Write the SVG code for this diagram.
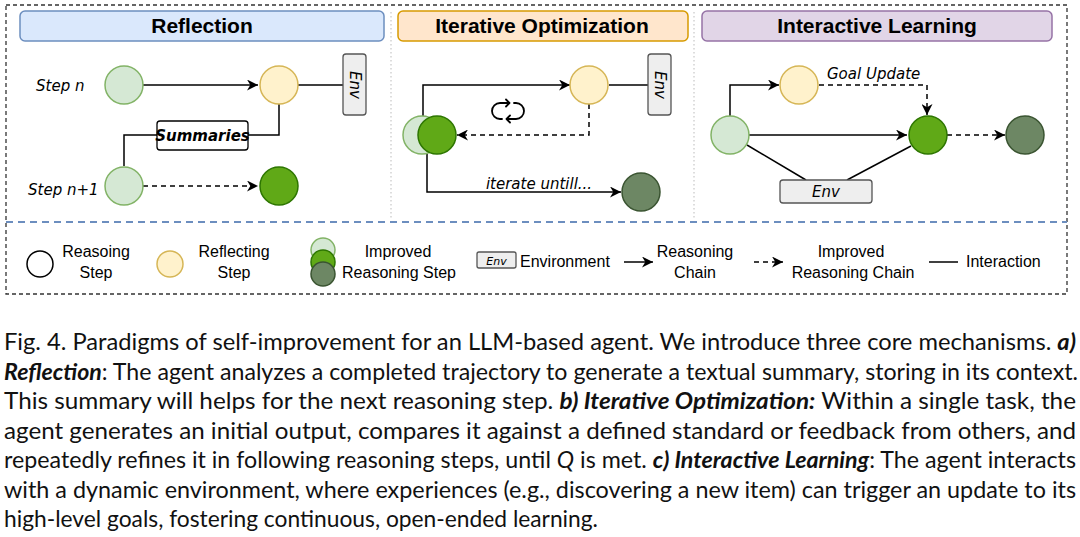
<svg xmlns="http://www.w3.org/2000/svg" width="1080" height="537" viewBox="0 0 1080 537">
<style>
.bg{fill:#ffffff}
.frame{fill:none;stroke:#333;stroke-width:1.3;stroke-dasharray:4 3}
.sep{fill:none;stroke:#6c8ebf;stroke-width:1.8;stroke-dasharray:7 5}
.div{fill:none;stroke:#bbb;stroke-width:1;stroke-dasharray:1.5 2.5}
.hdr{font-family:"Liberation Sans",Arial,sans-serif;font-weight:bold;font-size:21px;fill:#000;text-anchor:middle}
.c1{fill:#d5e8d4;stroke:#82b366;stroke-width:1.5}
.c2{fill:#fff2cc;stroke:#d6b656;stroke-width:1.5}
.c3{fill:#60a917;stroke:#2d7600;stroke-width:1.5}
.c4{fill:#6d8764;stroke:#3a5431;stroke-width:1.5}
.c0{fill:#fff;stroke:#000;stroke-width:1.5}
.env{fill:#eeeeee;stroke:#555;stroke-width:1.3}
.sum{fill:#fff;stroke:#000;stroke-width:1.3}
.hand{font-family:"Comic Sans MS","DejaVu Sans",sans-serif;font-style:italic;font-size:15px;fill:#000}
.mid{text-anchor:middle}
.small{font-size:11px}
.ln{fill:none;stroke:#000;stroke-width:1.5}
.dash{stroke-dasharray:5 4}
.leg{font-family:"Liberation Sans",Arial,sans-serif;font-size:16px;fill:#000;text-anchor:middle}
.legs{font-family:"Liberation Sans",Arial,sans-serif;font-size:16px;fill:#000;text-anchor:start}
.cap{font-family:Lato,"Noto Sans",sans-serif;font-size:22.5px;fill:#111}
.bi{font-weight:bold;font-style:italic}
</style>
<defs>
<marker id="ah" viewBox="0 0 10 10" refX="10" refY="5" markerWidth="11" markerHeight="11" markerUnits="userSpaceOnUse" orient="auto">
<path d="M0,0 L10,5 L0,10 L3,5 z" fill="#000"/>
</marker>
</defs>
<rect class="bg" x="0" y="0" width="1080" height="537"/>
<g id="frame">
<rect class="frame" x="6" y="5" width="1061" height="289"/>
<line class="sep" x1="6" y1="222" x2="1067" y2="222"/>
<line class="div" x1="391" y1="12" x2="391" y2="219"/>
<line class="div" x1="694" y1="12" x2="694" y2="219"/>
</g>
<g id="hdr-reflection">
<rect x="20" y="11" width="364" height="30" rx="5" fill="#dae8fc" stroke="#6c8ebf" stroke-width="1.5"/>
<text class="hdr" x="202" y="33">Reflection</text>
</g>
<g id="hdr-iterative">
<rect x="398" y="11" width="290" height="30" rx="5" fill="#ffe6cc" stroke="#d79b00" stroke-width="1.5"/>
<text class="hdr" x="542" y="33">Iterative Optimization</text>
</g>
<g id="hdr-interactive">
<rect x="702" y="11" width="350" height="30" rx="5" fill="#e1d5e7" stroke="#9673a6" stroke-width="1.5"/>
<text class="hdr" x="877" y="33">Interactive Learning</text>
</g>
<g id="connectors">
<path class="ln" d="M143,85 H258" marker-end="url(#ah)"/>
<path class="ln" d="M298,85 H343"/>
<path class="ln" d="M279,104 V135 H248"/>
<path class="ln" d="M157,135 H124 V166"/>
<path class="ln dash" d="M143,186 H258" marker-end="url(#ah)"/>
<path class="ln" d="M423,116 V85 H570" marker-end="url(#ah)"/>
<path class="ln" d="M609,85 H648"/>
<path class="ln dash" d="M589,104 V135 H457" marker-end="url(#ah)"/>
<path class="ln" d="M427,154 V192 H621" marker-end="url(#ah)"/>
<path class="ln" d="M730,116 V85 H779" marker-end="url(#ah)"/>
<path class="ln dash" d="M819,85 H927 V115" marker-end="url(#ah)"/>
<path class="ln" d="M749,135 H907" marker-end="url(#ah)"/>
<path class="ln dash" d="M947,135 H1005" marker-end="url(#ah)"/>
<path class="ln" d="M747,145 L806,180"/>
<path class="ln" d="M847,180 L911,146"/>
<path class="ln" d="M624,262 H653" marker-end="url(#ah)"/>
<path class="ln dash" d="M754,262 H783" marker-end="url(#ah)"/>
<path class="ln" d="M929,262 H958"/>
</g>
<g id="ref-labels">
<text class="hand" x="36" y="91">Step n</text>
<text class="hand" x="28" y="195">Step n+1</text>
</g>
<g id="ref-step-n"><circle class="c1" cx="124" cy="85" r="19"/></g>
<g id="ref-reflect"><circle class="c2" cx="279" cy="85" r="19"/></g>
<g id="ref-env"><rect class="env" x="343" y="54" width="23" height="61" rx="3"/><text class="hand mid" x="354.5" y="85" dominant-baseline="central" transform="rotate(90 354.5 85)">Env</text></g>
<g id="ref-summaries"><rect class="sum" x="157" y="121" width="91" height="29" rx="3"/><text class="hand mid" x="202.5" y="140.5" font-weight="bold">Summaries</text></g>
<g id="ref-step-n1"><circle class="c1" cx="124" cy="186" r="19"/></g>
<g id="ref-improved"><circle class="c3" cx="279" cy="186" r="19"/></g>
<g id="it-start"><circle class="c1" cx="422" cy="135" r="19"/><circle class="c3" cx="437" cy="135" r="19"/></g>
<g id="it-reflect"><circle class="c2" cx="589" cy="85" r="19"/></g>
<g id="it-env"><rect class="env" x="648" y="54" width="23" height="61" rx="3"/><text class="hand mid" x="659.5" y="85" dominant-baseline="central" transform="rotate(90 659.5 85)">Env</text></g>
<g id="it-loop" fill="none" stroke="#000" stroke-width="1.8" stroke-linecap="round" stroke-linejoin="round">
<path d="M502,119 H500 A8,8 0 0 1 500,103 H509"/>
<path d="M506,99.5 L509.5,103 L506,106.5"/>
<path d="M514,103 H516 A8,8 0 0 1 516,119 H507"/>
<path d="M510,115.5 L506.5,119 L510,122.5"/>
</g>
<g id="it-label"><text class="hand mid" x="539" y="189">iterate untill...</text></g>
<g id="it-final"><circle class="c4" cx="641" cy="192" r="19"/></g>
<g id="il-start"><circle class="c1" cx="730" cy="135" r="19"/></g>
<g id="il-reflect"><circle class="c2" cx="799" cy="85" r="19"/></g>
<g id="il-goal"><text class="hand" x="827" y="79">Goal Update</text></g>
<g id="il-improved"><circle class="c3" cx="928" cy="135" r="19"/></g>
<g id="il-final"><circle class="c4" cx="1025" cy="135" r="19"/></g>
<g id="il-env"><rect class="env" x="780" y="180" width="92" height="23" rx="3"/><text class="hand mid" x="826" y="197">Env</text></g>
<g id="legend">
<circle class="c0" cx="40" cy="264" r="13"/>
<text class="leg" x="96" y="257">Reasoing</text><text class="leg" x="96" y="278">Step</text>
<circle class="c2" cx="170" cy="264" r="13"/>
<text class="leg" x="234" y="257">Reflecting</text><text class="leg" x="234" y="278">Step</text>
<circle class="c1" cx="323" cy="250" r="12"/>
<circle class="c3" cx="323" cy="262" r="12"/>
<circle class="c4" cx="323" cy="274" r="12"/>
<text class="leg" x="398" y="257">Improved</text><text class="leg" x="399" y="278">Reasoning Step</text>
<rect class="env" x="477" y="252" width="39" height="16" rx="2"/>
<text class="hand mid small" x="496.5" y="265">Env</text>
<text class="legs" x="520" y="267">Environment</text>
<text class="leg" x="695" y="257">Reasoning</text><text class="leg" x="695" y="278">Chain</text>
<text class="leg" x="851" y="257">Improved</text><text class="leg" x="853" y="278">Reasoning Chain</text>
<text class="legs" x="966" y="267">Interaction</text>
</g>
<g id="caption" class="cap">
<text x="4" y="350" textLength="1072" lengthAdjust="spacingAndGlyphs">Fig. 4.  Paradigms of self-improvement for an LLM-based agent. We introduce three core mechanisms. <tspan class="bi">a)</tspan></text>
<text x="4" y="379.5" textLength="1074" lengthAdjust="spacingAndGlyphs"><tspan class="bi">Reflection</tspan>: The agent analyzes a completed trajectory to generate a textual summary, storing in its context.</text>
<text x="4" y="409" textLength="1072" lengthAdjust="spacingAndGlyphs">This summary will helps for the next reasoning step. <tspan class="bi">b) Iterative Optimization:</tspan> Within a single task, the</text>
<text x="4" y="438.5" textLength="1072" lengthAdjust="spacingAndGlyphs">agent generates an initial output, compares it against a defined standard or feedback from others, and</text>
<text x="4" y="468" textLength="1072" lengthAdjust="spacingAndGlyphs">repeatedly refines it in following reasoning steps, until <tspan font-style="italic">Q</tspan> is met. <tspan class="bi">c) Interactive Learning</tspan>: The agent interacts</text>
<text x="4" y="497.5" textLength="1072" lengthAdjust="spacingAndGlyphs">with a dynamic environment, where experiences (e.g., discovering a new item) can trigger an update to its</text>
<text x="4" y="527" textLength="594" lengthAdjust="spacingAndGlyphs">high-level goals, fostering continuous, open-ended learning.</text>
</g>
</svg>
